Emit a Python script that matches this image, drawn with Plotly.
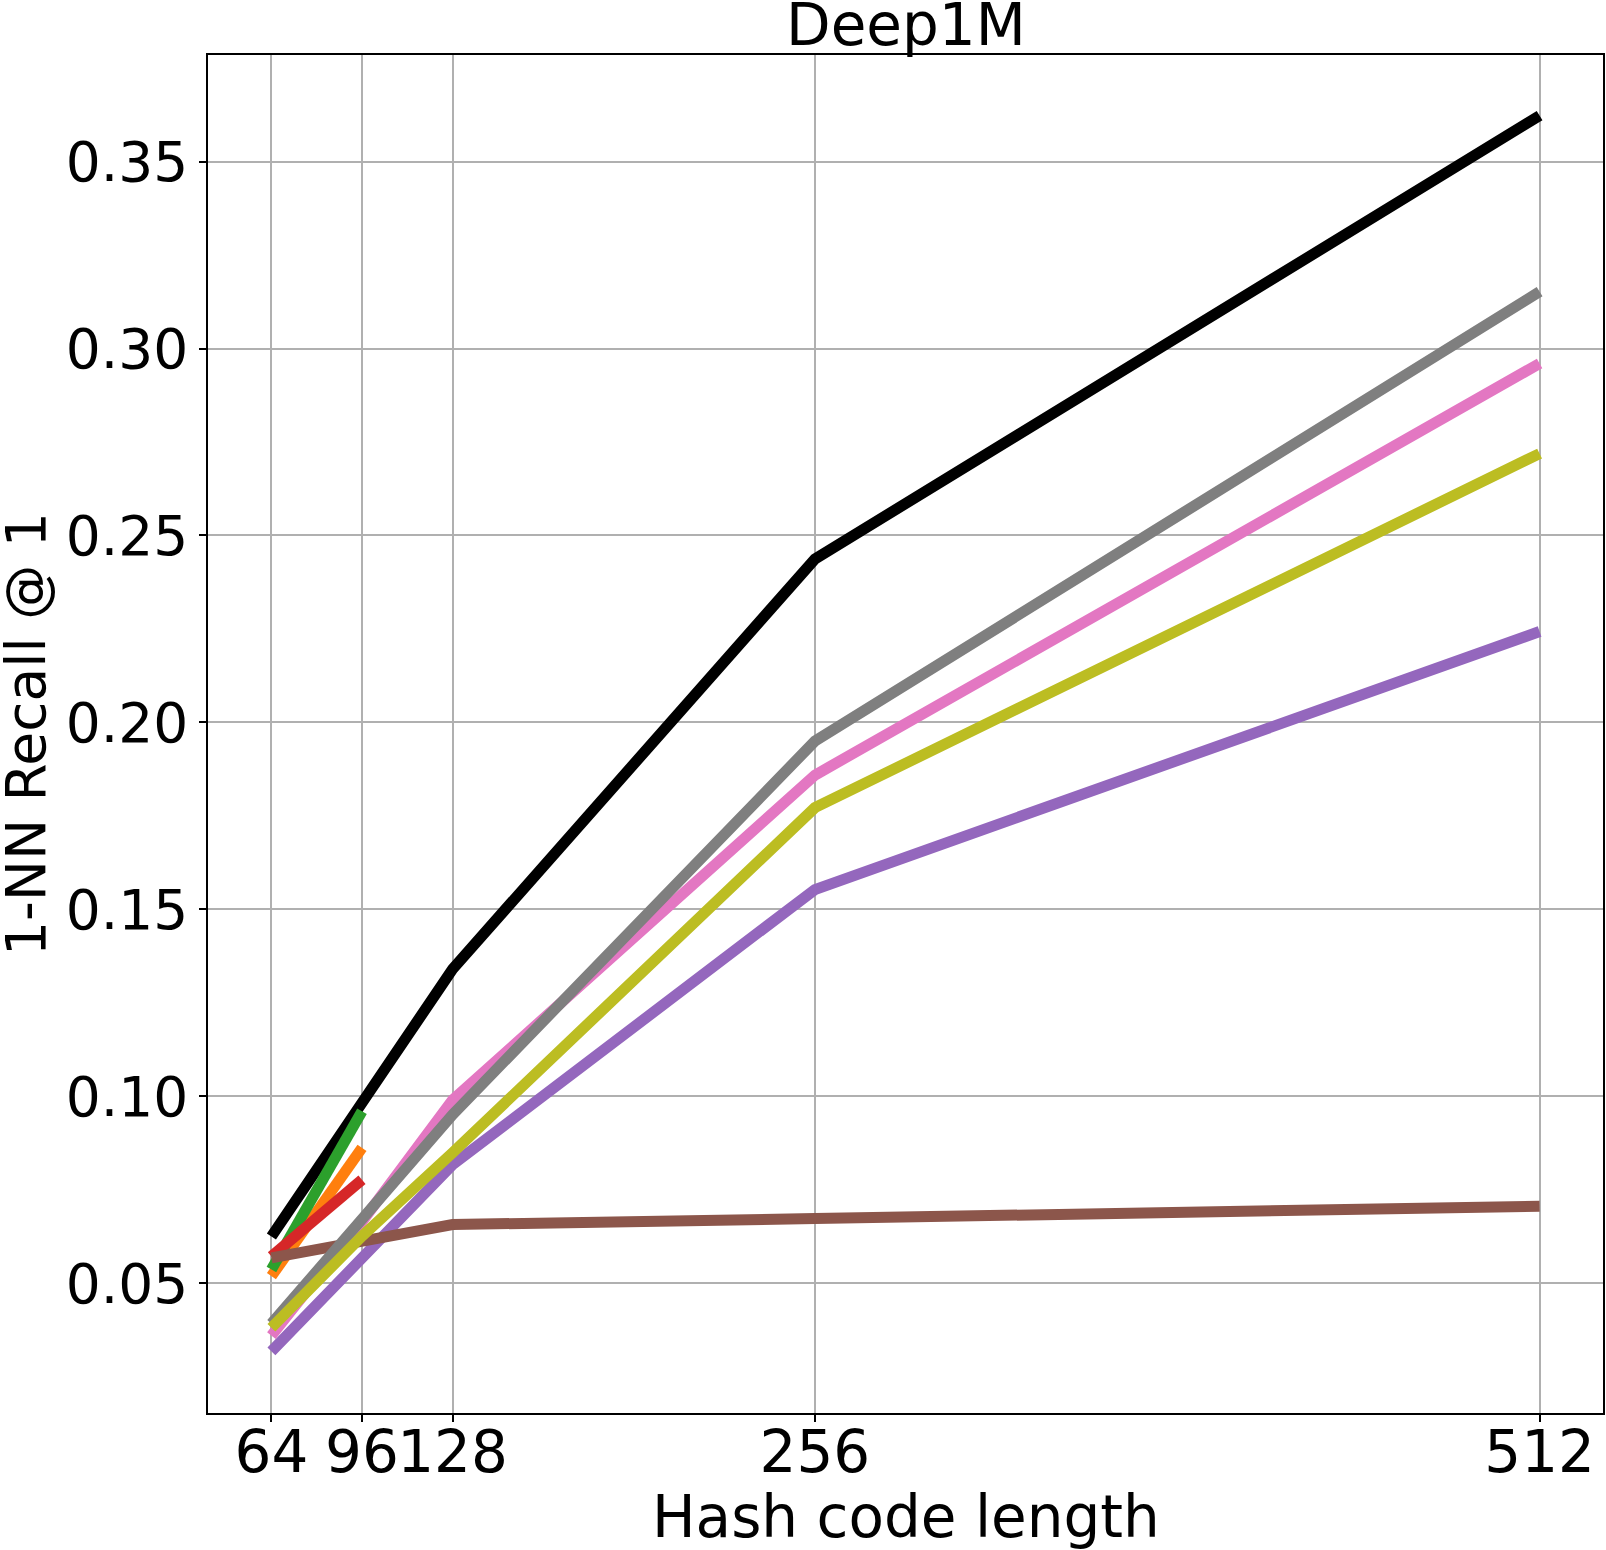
import plotly.graph_objects as go

x_full = [64, 96, 128, 256, 512]
x_short = [64, 96]

black = [0.0625, 0.0985, 0.134, 0.2437, 0.3623]
orange = [0.0519, 0.0862]
green = [0.0537, 0.0960]
red = [0.0572, 0.0777]
purple = [0.0318, 0.0572, 0.0817, 0.1553, 0.2243]
brown = [0.0568, 0.0612, 0.0657, 0.0673, 0.0706]
pink = [0.0360, 0.0665, 0.0990, 0.1859, 0.2960]
gray = [0.0392, 0.0675, 0.0951, 0.1950, 0.3152]
olive = [0.0381, 0.0626, 0.0849, 0.1772, 0.2719]

x_ticks = [64, 96, 128, 256, 512]
y_ticks = [0.05, 0.10, 0.15, 0.20, 0.25, 0.30, 0.35]

series = [
    (x_full, black, "#000000"),
    (x_short, orange, "#ff7f0e"),
    (x_short, green, "#2ca02c"),
    (x_short, red, "#d62728"),
    (x_full, purple, "#9467bd"),
    (x_full, brown, "#8c564b"),
    (x_full, pink, "#e377c2"),
    (x_full, gray, "#7f7f7f"),
    (x_full, olive, "#bcbd22"),
]

fig = go.Figure()
for xs, ys, c in series:
    fig.add_trace(go.Scatter(x=xs, y=ys, mode="lines",
                             line=dict(color=c, width=11), showlegend=False))

font = "DejaVu Sans"
fs_big = 58
fs_small = 55
fig.update_layout(
    width=1606, height=1550,
    margin=dict(l=208, r=3, t=55, b=137, autoexpand=False),
    paper_bgcolor="white", plot_bgcolor="white",
    font=dict(family=font, size=fs_small, color="black"),
    showlegend=False,
)
fig.update_xaxes(
    range=[41.6, 534.4], tickvals=x_ticks, ticktext=[str(v) for v in x_ticks],
    tickangle=0, automargin=False, ticklabelstandoff=-19,
    showgrid=True, gridcolor="#b0b0b0", gridwidth=1.5,
    showline=True, linecolor="black", linewidth=1.5, mirror=True,
    ticks="outside", ticklen=7, tickwidth=1.5, tickcolor="black",
    zeroline=False, tickfont=dict(family=font, size=fs_big, color="black"),
)
fig.update_yaxes(
    range=[0.0153, 0.3785], tickvals=y_ticks, ticktext=["%.2f" % v for v in y_ticks],
    automargin=False,
    showgrid=True, gridcolor="#b0b0b0", gridwidth=1.5,
    showline=True, linecolor="black", linewidth=1.5, mirror=True,
    ticks="outside", ticklen=7, tickwidth=1.5, tickcolor="black",
    zeroline=False, tickfont=dict(family=font, size=fs_small, color="black"),
)
fig.add_annotation(text="Deep1M", xref="paper", yref="paper", x=0.5, y=1,
                   yshift=66, showarrow=False, xanchor="center", yanchor="top",
                   font=dict(family=font, size=fs_big, color="black"))
fig.add_annotation(text="Hash code length", xref="paper", yref="paper", x=0.5, y=0,
                   yshift=-68, showarrow=False, xanchor="center", yanchor="top",
                   font=dict(family=font, size=fs_big, color="black"))
fig.add_annotation(text="1-NN Recall @ 1", xref="paper", yref="paper", x=0, y=0.5,
                   xshift=-216, showarrow=False, xanchor="left", yanchor="middle",
                   textangle=-90,
                   font=dict(family=font, size=fs_small, color="black"))
fig.write_html("out.html")
